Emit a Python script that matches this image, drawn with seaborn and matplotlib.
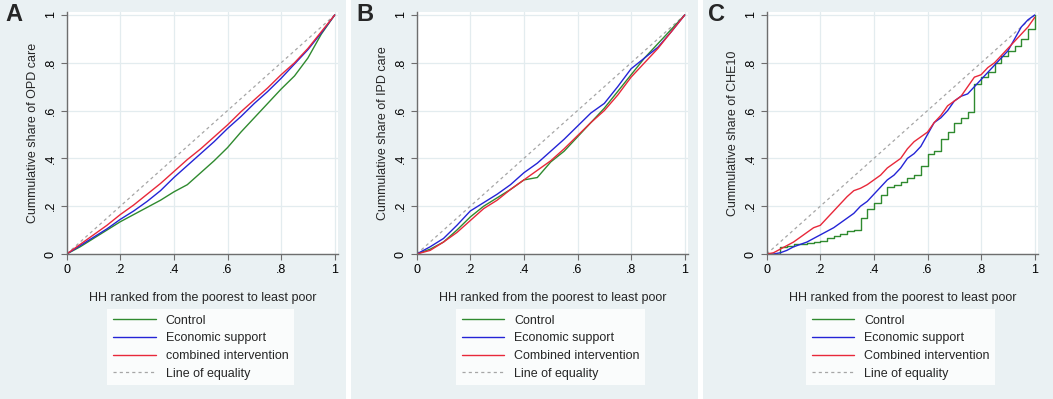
import numpy as np
import matplotlib
matplotlib.use("Agg")
import matplotlib.pyplot as plt
import seaborn as sns
from matplotlib.lines import Line2D
from matplotlib.patches import Rectangle

sns.set_theme(style="white")
plt.rcParams['font.family'] = ['Liberation Sans', 'DejaVu Sans']

# ---------------- data ----------------
x21 = [0, .05, .1, .15, .2, .25, .3, .35, .4, .45, .5, .55, .6, .65, .7, .75, .8, .85, .9, .95, 1]
x41 = [0, .025, .05, .075, .1, .125, .15, .175, .2, .225, .25, .275, .3, .325, .35, .375, .4,
       .425, .45, .475, .5, .525, .55, .575, .6, .625, .65, .675, .7, .725, .75, .775, .8,
       .825, .85, .875, .9, .925, .95, .975, 1]

a_control = [0, .03, .065, .10, .135, .165, .195, .225, .26, .29, .34, .39, .445, .51, .57, .63, .69, .745, .82, .92, 1]
a_econ    = [0, .035, .07, .105, .145, .18, .22, .265, .32, .37, .42, .47, .525, .575, .63, .68, .735, .795, .855, .925, 1]
a_comb    = [0, .04, .08, .12, .165, .205, .25, .295, .345, .395, .44, .49, .54, .595, .645, .695, .75, .80, .86, .93, 1]

b_control = [0, .02, .05, .10, .155, .20, .235, .27, .31, .32, .385, .43, .49, .55, .61, .68, .75, .82, .88, .94, 1]
b_econ    = [0, .03, .065, .12, .18, .215, .25, .29, .34, .38, .43, .48, .535, .59, .63, .70, .775, .82, .865, .93, 1]
b_comb    = [0, .015, .05, .09, .14, .19, .225, .27, .31, .35, .39, .44, .495, .55, .60, .665, .74, .80, .86, .93, 1]

c_control = [0, 0, .03, .035, .04, .04, .045, .05, .055, .065, .075, .085, .095, .10, .15, .19, .215,
             .245, .28, .29, .30, .32, .33, .37, .42, .43, .48, .51, .55, .57, .595, .71, .74,
             .76, .80, .83, .85, .87, .90, .94, 1]
c_econ    = [0, 0, .005, .015, .03, .04, .05, .065, .08, .095, .11, .13, .15, .17, .20, .22, .25,
             .28, .31, .33, .36, .40, .42, .45, .50, .55, .57, .60, .64, .66, .67, .70, .73,
             .76, .79, .82, .85, .90, .95, .98, 1]
c_comb    = [0, .005, .02, .035, .05, .07, .09, .11, .12, .15, .18, .21, .24, .265, .275, .29, .31,
             .33, .36, .38, .40, .44, .47, .49, .51, .55, .58, .62, .64, .66, .70, .74, .75,
             .78, .80, .83, .86, .89, .92, .95, .99]

equality = [0, 1]

tick_vals = [0, .2, .4, .6, .8, 1]
tick_labels = ["0", ".2", ".4", ".6", ".8", "1"]

panel_letters = ["A", "B", "C"]
ylabels = ["Cummulative share of OPD care", "Cummulative share of IPD care", "Cummulative share of CHE10"]
xlabel = "HH ranked from the poorest to least poor"
legend_sets = [
    ["Control", "Economic support", "combined intervention", "Line of equality"],
    ["Control", "Economic support", "Combined intervention", "Line of equality"],
    ["Control", "Economic support", "Combined intervention", "Line of equality"],
]

GREEN = "#2f8a2f"
BLUE = "#2424d6"
RED = "#e8283a"
GRAYD = "#a6a6a6"
BG = "#eaf1f3"
FS = 9

W, H = 1053, 399
fig = plt.figure(figsize=(W / 100, H / 100), dpi=100)
fig.patch.set_facecolor("white")

panel_x = [(0, 346), (351, 698), (703, 1053)]
ax_left = [66.7, 416.7, 766.7]
for (x0, x1) in panel_x:
    fig.patches.append(Rectangle((x0 / W, 0), (x1 - x0) / W, 1, transform=fig.transFigure,
                                 facecolor=BG, edgecolor="none", zorder=-10))

series = [
    (x21, a_control, a_econ, a_comb, None, None),
    (x21, b_control, b_econ, b_comb, None, None),
    (x41, c_control, c_econ, c_comb, "steps-post", None),
]

xmax = 1.012
px_per_unit_x = 268.0
px_per_unit_y = 239.0
for i in range(3):
    left = ax_left[i]
    ax = fig.add_axes([left / W, 145 / H, px_per_unit_x * xmax / W, px_per_unit_y * xmax / H])
    ax.set_facecolor("white")
    xs, yc, ye, yb, ds_g, ds_o = series[i]
    kg = {} if ds_g is None else {"drawstyle": ds_g}
    ko = {} if ds_o is None else {"drawstyle": ds_o}
    sns.lineplot(x=equality, y=equality, ax=ax, color=GRAYD, lw=0.9, linestyle=(0, (2.5, 2.5)))
    sns.lineplot(x=xs, y=yc, ax=ax, color=GREEN, lw=1.0, **kg)
    sns.lineplot(x=xs, y=ye, ax=ax, color=BLUE, lw=1.0, **ko)
    sns.lineplot(x=xs, y=yb, ax=ax, color=RED, lw=1.0, **ko)
    ax.set_xlim(0, xmax)
    ax.set_ylim(0, xmax)
    ax.set_xticks(tick_vals)
    ax.set_xticklabels(tick_labels, fontsize=FS)
    ax.set_yticks(tick_vals)
    ax.set_yticklabels(tick_labels, fontsize=FS, rotation=90, va="center")
    ax.grid(True, color="#e3ecef", lw=0.9)
    for s in ["top", "right"]:
        ax.spines[s].set_visible(False)
    for s in ["left", "bottom"]:
        ax.spines[s].set_color("#6e6e6e")
        ax.spines[s].set_linewidth(1.0)
    ax.tick_params(axis="both", which="both", direction="out", length=4, width=0.8,
                   color="#6e6e6e", labelcolor="black", pad=3, left=True, bottom=True)
    ax.set_xlabel(xlabel, fontsize=FS, labelpad=12)
    ax.set_ylabel(ylabels[i], fontsize=FS, labelpad=4)
    ax.set_axisbelow(True)
    fig.text((panel_x[i][0] + 5) / W, 1 - 3 / H, panel_letters[i], fontsize=17, fontweight="bold",
             ha="left", va="top")
    handles = [Line2D([], [], color=GREEN, lw=1.0), Line2D([], [], color=BLUE, lw=1.0),
               Line2D([], [], color=RED, lw=1.0),
               Line2D([], [], color=GRAYD, lw=0.9, linestyle=(0, (2.5, 2.5)))]
    cx = (left + 134) / W
    leg = fig.legend(handles, legend_sets[i], loc="upper center", bbox_to_anchor=(cx, 1 - 309 / H),
                     frameon=True, fancybox=False, fontsize=FS, handlelength=3.4,
                     handletextpad=0.8, labelspacing=0.45, borderpad=0.45, borderaxespad=0)
    leg.get_frame().set_facecolor("white")
    leg.get_frame().set_edgecolor("white")
    leg.get_frame().set_linewidth(0)

fig.savefig("out.png", dpi=100)
